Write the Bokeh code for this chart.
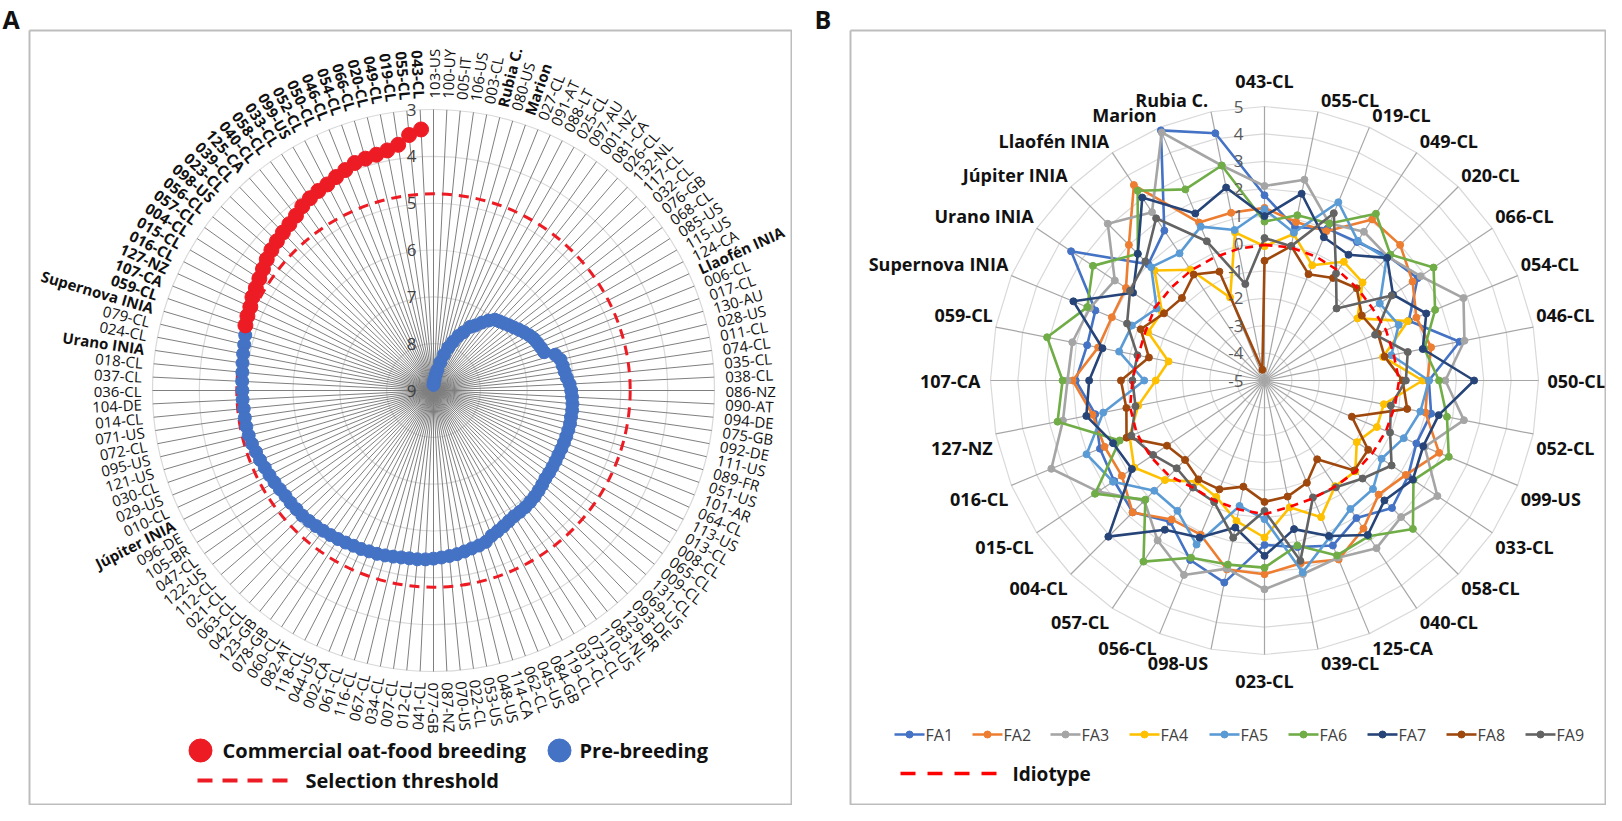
import math
from bokeh.plotting import figure
from bokeh.layouts import row
from bokeh.models import Range1d
from bokeh.core.properties import value
from bokeh.embed import file_html
from bokeh.resources import INLINE

# ---------------- Panel A data ----------------
genotypes = [
    "043-CL", "055-CL", "019-CL", "049-CL", "020-CL", "066-CL", "054-CL", "046-CL", "050-CL", "052-CL",
    "099-US", "033-CL", "058-CL", "040-CL", "125-CA", "039-CL", "023-CL", "098-US", "056-CL", "057-CL",
    "004-CL", "015-CL", "016-CL", "127-NZ", "107-CA", "059-CL", "Supernova INIA", "079-CL", "024-CL", "Urano INIA",
    "018-CL", "037-CL", "036-CL", "104-DE", "014-CL", "071-US", "072-CL", "095-US", "121-US", "030-CL",
    "029-US", "010-CL", "Júpiter INIA", "096-DE", "105-BR", "047-CL", "122-US", "112-CL", "021-CL", "063-CL",
    "042-CL", "123-GB", "078-GB", "060-CL", "082-AT", "118-CL", "044-US", "002-CA", "061-CL", "116-CL",
    "067-CL", "034-CL", "007-CL", "012-CL", "041-CL", "077-GB", "087-NZ", "070-US", "022-CL", "053-US",
    "048-US", "114-CA", "062-CL", "045-US", "084-GB", "119-CL", "031-CL", "073-CL", "110-US", "083-NL",
    "129-BR", "093-DE", "069-US", "131-CL", "009-CL", "065-CL", "008-CL", "013-CL", "113-US", "064-CL",
    "101-AR", "051-US", "089-FR", "111-US", "092-DE", "075-GB", "094-DE", "090-AT", "086-NZ", "038-CL",
    "035-CL", "074-CL", "011-CL", "028-US", "130-AU", "017-CL", "006-CL", "Llaofén INIA", "124-CA", "115-US",
    "085-US", "068-CL", "076-GB", "032-CL", "117-CL", "132-NL", "026-CL", "081-CA", "001-NZ", "097-AU",
    "025-CL", "088-LT", "091-AT", "027-CL", "Marion", "080-US", "Rubia C.", "003-CL", "106-US", "005-IT",
    "100-UY", "103-US",
]
commercial_values = [
    3.42, 3.52, 3.70, 3.78, 3.82, 3.84, 3.86, 3.93, 3.99, 4.05,
    4.08, 4.12, 4.17, 4.25, 4.30, 4.34, 4.38, 4.42, 4.47, 4.53,
    4.58, 4.62, 4.65, 4.70, 4.72, 4.75,
]
prebreeding_values = [
    4.81, 4.84, 4.86, 4.88, 4.90, 4.91, 4.92, 4.92, 4.93, 4.93,
    4.93, 4.94, 4.96, 4.99, 5.01, 5.04, 5.06, 5.08, 5.10, 5.12,
    5.12, 5.13, 5.13, 5.15, 5.17, 5.19, 5.21, 5.23, 5.25, 5.27,
    5.28, 5.30, 5.31, 5.33, 5.35, 5.37, 5.38, 5.38, 5.39, 5.41,
    5.43, 5.45, 5.47, 5.50, 5.53, 5.55, 5.58, 5.66, 5.70, 5.74,
    5.78, 5.81, 5.82, 5.83, 5.85, 5.87, 5.90, 5.93, 5.96, 5.97,
    5.98, 5.99, 6.00, 6.00, 6.00, 6.00, 6.00, 6.00, 6.01, 6.01,
    6.02, 6.04, 6.06, 6.09, 6.14, 6.17, 6.19, 6.21, 6.29, 6.50,
    6.53, 6.56, 6.59, 6.64, 6.70, 6.76, 6.82, 6.87, 6.92, 6.96,
    7.00, 7.10, 7.22, 7.35, 7.43, 7.60, 7.72, 7.88, 8.03, 8.20,
    8.38, 8.55, 8.65, 8.75, 8.82, 8.88,
]
named_cultivars = ["Supernova INIA", "Urano INIA", "Júpiter INIA", "Llaofén INIA", "Marion", "Rubia C."]
selection_threshold = 4.8
radial_ticks_a = [3, 4, 5, 6, 7, 8, 9]
legend_a = ["Commercial oat-food breeding", "Pre-breeding", "Selection threshold"]

# ---------------- Panel B data ----------------
cats_b = [
    "043-CL", "055-CL", "019-CL", "049-CL", "020-CL", "066-CL", "054-CL", "046-CL",
    "050-CL", "052-CL", "099-US", "033-CL", "058-CL", "040-CL", "125-CA", "039-CL",
    "023-CL", "098-US", "056-CL", "057-CL", "004-CL", "015-CL", "016-CL", "127-NZ",
    "107-CA", "059-CL", "Supernova INIA", "Urano INIA", "Júpiter INIA", "Llaofén INIA", "Marion", "Rubia C.",
]
fa1 = [1.76, 0.7, 1.0, 1.08, 1.4, 1.72, 0.7, 2.26, 1.0, 1.2, 1.0, 1.3, 1.58, 1.04, 1.52, 1.2,
       1.0, 2.52, 2.09, 1.2, 1.8, 1.6, 1.5, 1.3, 1.89, 1.6, 1.68, 3.49, 1.0, 1.58, 4.88, 4.2]
fa2 = [1.3, 0.9, 0.9, 2.07, 2.0, 1.5, 1.0, 1.2, 0.95, 0.99, 1.9, 1.2, 0.89, 1.5, 2.07, 1.8,
       2.07, 2.03, 1.09, 1.1, 1.81, 1.26, 1.32, 1.4, 2.0, 1.19, 1.03, 1.08, 2.0, 3.58, 1.24, 1.24]
fa3 = [2.1, 2.47, 1.2, 1.53, 1.38, 1.85, 2.86, 2.44, 1.6, 2.42, 1.33, 2.59, 2.05, 2.36, 2.0, 2.2,
       2.62, 2.0, 2.68, 2.02, 1.2, 2.3, 3.42, 2.5, 2.19, 2.15, 1.9, 1.57, 3.09, 2.39, 4.8, 3.0]
fa4 = [-0.1, 0.45, -0.45, 0.21, 0.06, -0.92, 0.66, -0.59, 0.77, -0.56, -0.56, -0.95, -0.31, -0.36, 0.4, -0.28,
       0.73, 0.23, -0.4, -0.56, 0.14, 0.72, 0.33, -0.3, -1.03, -1.43, -0.4, -0.5, 0.68, -0.14, -1.72, 0.51]
fa5 = [1.25, 0.5, 2.04, 1.13, 1.3, 0.06, 0.3, -0.28, 1.0, 0.8, 0.5, 0.14, 0.6, 0.64, 1.2, 2.14,
       0.06, -0.33, 1.48, 0.72, 0.69, 1.65, 2.03, 1.0, -0.61, 0.41, 0.24, -0.27, 0.85, 0.58, 1.08, 0.6]
fa6 = [0.8, 1.15, 1.2, 2.32, 1.5, 2.42, 1.74, 0.95, 1.37, 1.79, 2.28, 1.54, 2.66, 1.84, 1.91, 1.14,
       1.83, 1.85, 2.0, 2.95, 1.15, 2.44, 0.72, 2.7, 2.37, 3.09, 2.0, 2.53, 1.54, 3.33, 2.55, 3.0]
fa7 = [1.0, 1.95, 0.66, 0.52, 1.33, 0.64, 1.39, 0.89, 2.65, 1.48, 1.27, 1.51, 1.19, 1.78, 1.14, 0.53,
       1.4, 0.47, 1.2, 1.55, 3.06, 0.82, 0.98, 1.63, 1.4, 1.03, 2.55, 0.77, 1.54, 3.03, 1.6, 2.18]
fa8 = [-0.63, 0.0, -0.8, -0.5, -0.24, -0.73, -0.52, -0.53, 0.04, 0.31, -1.55, -0.45, -0.36, -1.54, -0.96, -0.68,
       -0.57, -1.05, -0.7, -0.66, -0.9, -0.72, 0.45, 0.14, 0.24, -0.7, -0.11, -0.59, -0.74, -0.35, -0.7, -4.6]
fa9 = [0.2, 0.0, 1.61, -0.3, -1.28, 0.58, -0.63, 0.33, 0.16, -0.3, -0.04, 0.58, 0.06, -0.31, -0.38, 1.71,
       -0.24, 0.85, -0.2, -0.3, -0.47, -0.11, 0.26, -0.2, -0.18, -0.27, 0.43, 0.9, 1.15, 2.12, 0.5, -1.41]
idiotype = [-0.05, -0.05, -0.1, -0.17, -0.22, -0.26, -0.2, -0.19, -0.09, -0.15, -0.2, -0.25, -0.3, -0.35, -0.35, -0.3,
            -0.12, -0.2, -0.25, -0.3, -0.08, 0.0, 0.05, 0.0, -0.18, -0.3, -0.3, -0.2, -0.2, -0.17, -0.15, -0.1]
series_names = ["FA1", "FA2", "FA3", "FA4", "FA5", "FA6", "FA7", "FA8", "FA9"]
series_values = [fa1, fa2, fa3, fa4, fa5, fa6, fa7, fa8, fa9]
series_colors = ["#4472C4", "#ED7D31", "#A5A5A5", "#FFC000", "#5B9BD5", "#70AD47", "#264478", "#9E480E", "#636363"]
ticks_b = [-5, -4, -3, -2, -1, 0, 1, 2, 3, 4, 5]

FONT = value("Open Sans")
RED = "#ED1C24"
BLUE = "#4472C4"

# ======================= Panel A =======================
CXA, CYA = 441, 398          # page position of the polar centre
RA = 281.0                   # radius of the outer ring (value 3)
VMIN_A, VMAX_A = 3.0, 9.0    # outer ring value, centre value


def rad_a(v):
    return (VMAX_A - v) / (VMAX_A - VMIN_A) * RA


pa = figure(width=792, height=805, x_range=Range1d(8 - CXA, 800 - CXA), y_range=Range1d(CYA - 813, CYA - 8),
            output_backend="svg", toolbar_location=None, min_border=0,
            x_axis_location=None, y_axis_location=None)
pa.grid.visible = False
pa.outline_line_color = None
pa.background_fill_color = "white"
pa.border_fill_color = "white"

n_a = len(genotypes)
step_a = 2 * math.pi / n_a
phis = [math.pi / 2 + (i + 1) * step_a for i in range(n_a)]

# ring grid
ring_vals = [v for v in radial_ticks_a if v < VMAX_A]
pa.circle(x=[0] * len(ring_vals), y=[0] * len(ring_vals), radius=[rad_a(v) for v in ring_vals],
          fill_color=None, line_color="#D9D9D9", line_width=1.2)
# spokes
pa.segment(x0=[0] * n_a, y0=[0] * n_a, x1=[RA * math.cos(p) for p in phis], y1=[RA * math.sin(p) for p in phis],
           line_color="#7F7F7F", line_width=1)
# threshold
pa.circle(x=[0], y=[0], radius=[rad_a(selection_threshold)], fill_color=None, line_color=RED,
          line_width=3, line_dash="10 7")

# points
all_vals = commercial_values + prebreeding_values
n_c = len(commercial_values)
px = [rad_a(v) * math.cos(phis[i]) for i, v in enumerate(all_vals)]
py = [rad_a(v) * math.sin(phis[i]) for i, v in enumerate(all_vals)]
pa.scatter(px[n_c:], py[n_c:], size=13, fill_color=BLUE, line_color=BLUE)
pa.scatter(px[:n_c], py[:n_c], size=15, fill_color=RED, line_color=RED)

# radial tick labels
pa.text(x=[-22] * len(radial_ticks_a), y=[rad_a(v) for v in radial_ticks_a], text=[str(v) for v in radial_ticks_a],
        text_font=FONT, text_font_size="17px", text_color="#404040", text_align="center", text_baseline="middle")

# category labels
R_LAB_A = 292
groups = {}
for i, name in enumerate(genotypes):
    phi = phis[i]
    theta = (i + 1) * step_a
    left = 0 < theta < math.pi - 1e-9
    bold = i < n_c or name in named_cultivars
    key = (left, bold)
    g = groups.setdefault(key, {"x": [], "y": [], "t": [], "a": []})
    g["x"].append(R_LAB_A * math.cos(phi))
    g["y"].append(R_LAB_A * math.sin(phi))
    g["t"].append(name)
    g["a"].append(phi - math.pi if left else phi)
for (left, bold), g in groups.items():
    pa.text(x=g["x"], y=g["y"], text=g["t"], angle=g["a"], text_font=FONT, text_font_size="15px",
            text_font_style="bold" if bold else "normal", text_color="#111111",
            text_align="right" if left else "left", text_baseline="middle")

# legend A (positions in page pixels converted to this panel's coordinates)
def a_xy(X, Y):
    return X - CXA, CYA - Y

lx, ly = a_xy(208, 758)
pa.scatter([lx], [ly], size=23, fill_color=RED, line_color=RED)
tx, ty = a_xy(230, 758)
pa.text([tx], [ty], text=[legend_a[0]], text_font=FONT, text_font_size="20px", text_font_style="bold",
        text_baseline="middle", text_color="#111111")
lx, ly = a_xy(567, 758)
pa.scatter([lx], [ly], size=23, fill_color=BLUE, line_color=BLUE)
tx, ty = a_xy(587, 758)
pa.text([tx], [ty], text=[legend_a[1]], text_font=FONT, text_font_size="20px", text_font_style="bold",
        text_baseline="middle", text_color="#111111")
x0, y0 = a_xy(205, 788)
x1, _ = a_xy(302, 788)
pa.line([x0, x1], [y0, y0], line_color=RED, line_width=4, line_dash="15 10")
tx, ty = a_xy(313, 788)
pa.text([tx], [ty], text=[legend_a[2]], text_font=FONT, text_font_size="20px", text_font_style="bold",
        text_baseline="middle", text_color="#111111")

# box and panel letter
bx0, by0 = a_xy(37, 38)
bx1, by1 = a_xy(799, 812)
pa.line([bx0, bx1, bx1, bx0, bx0], [by0, by0, by1, by1, by0], line_color="#BDBDBD", line_width=2)
tx, ty = a_xy(10, 9)
pa.text([tx], [ty], text=["A"], text_font=FONT, text_font_size="25px", text_font_style="bold",
        text_baseline="top", text_align="left", text_color="#111111")

# ======================= Panel B =======================
CXB, CYB = 1272, 388
RB = 274.0
VMIN_B, VMAX_B = -5.0, 5.0


def rad_b(v):
    return (v - VMIN_B) / (VMAX_B - VMIN_B) * RB


pb = figure(width=814, height=805, x_range=Range1d(800 - CXB, 1614 - CXB), y_range=Range1d(CYB - 813, CYB - 8),
            output_backend="svg", toolbar_location=None, min_border=0,
            x_axis_location=None, y_axis_location=None)
pb.grid.visible = False
pb.outline_line_color = None
pb.background_fill_color = "white"
pb.border_fill_color = "white"

n_b = len(cats_b)
thetas = [k * 2 * math.pi / n_b for k in range(n_b)]

# polygon grid
gx, gy = [], []
for v in ticks_b[1:]:
    r = rad_b(v)
    gx.append([r * math.sin(t) for t in thetas] + [0.0])
    gy.append([r * math.cos(t) for t in thetas] + [r])
pb.multi_line(gx, gy, line_color="#D9D9D9", line_width=1.2)
pb.segment(x0=[0] * n_b, y0=[0] * n_b, x1=[RB * math.sin(t) for t in thetas], y1=[RB * math.cos(t) for t in thetas],
           line_color="#A6A6A6", line_width=1.2)


def polar_b(vals):
    xs = [rad_b(v) * math.sin(thetas[k]) for k, v in enumerate(vals)]
    ys = [rad_b(v) * math.cos(thetas[k]) for k, v in enumerate(vals)]
    return xs, ys


for name, vals, col in zip(series_names, series_values, series_colors):
    xs, ys = polar_b(vals)
    pb.line(xs + xs[:1], ys + ys[:1], line_color=col, line_width=2.6)
    pb.scatter(xs, ys, size=7, fill_color=col, line_color=col)

xs, ys = polar_b(idiotype)
pb.line(xs + xs[:1], ys + ys[:1], line_color="#FF0000", line_width=2.6, line_dash="8 6")

# tick labels
pb.text(x=[-21] * len(ticks_b), y=[rad_b(v) for v in ticks_b], text=[str(v) for v in ticks_b],
        text_font=FONT, text_font_size="17px", text_color="#595959", text_align="right", text_baseline="middle")

# category labels
for k, name in enumerate(cats_b):
    s, c = math.sin(thetas[k]), math.cos(thetas[k])
    x, y = RB * s, RB * c
    if abs(s) < 1e-6:
        align, dx = "center", 0
    elif s > 0:
        align, dx = "left", 3
    else:
        align, dx = "right", -3
    if abs(c) < 1e-6:
        base, dy = "middle", 0
    elif c > 0:
        base, dy = "bottom", 0
    else:
        base, dy = "top", -2
    if k == 0:
        dy = 14
    if k == n_b // 2:
        dy = -14
    if k == n_b // 4:
        dx = 9
    if k == 3 * n_b // 4:
        dx = -10
    pb.text([x + dx], [y + dy], text=[name], text_font=FONT, text_font_size="18px", text_font_style="bold",
            text_align=align, text_baseline=base, text_color="#111111")


def b_xy(X, Y):
    return X - CXB, CYB - Y

# legend B
leg_x = [902, 980, 1058, 1137, 1217, 1296, 1375, 1454, 1533]
for name, col, X in zip(series_names, series_colors, leg_x):
    x0, y0 = b_xy(X, 742)
    pb.line([x0, x0 + 30], [y0, y0], line_color=col, line_width=2.6)
    pb.scatter([x0 + 15], [y0], size=7, fill_color=col, line_color=col)
    pb.text([x0 + 31], [y0], text=[name], text_font=FONT, text_font_size="16px", text_color="#404040",
            text_baseline="middle", text_align="left")
x0, y0 = b_xy(908, 781)
pb.line([x0, x0 + 96], [y0, y0], line_color="#FF0000", line_width=3.5, line_dash="15 12")
tx, ty = b_xy(1020, 781)
pb.text([tx], [ty], text=["Idiotype"], text_font=FONT, text_font_size="19px", text_font_style="bold",
        text_baseline="middle", text_color="#111111")

bx0, by0 = b_xy(858, 38)
bx1, by1 = b_xy(1613, 812)
pb.line([bx0, bx1, bx1, bx0, bx0], [by0, by0, by1, by1, by0], line_color="#BDBDBD", line_width=2)
tx, ty = b_xy(822, 9)
pb.text([tx], [ty], text=["B"], text_font=FONT, text_font_size="25px", text_font_style="bold",
        text_baseline="top", text_align="left", text_color="#111111")

layout = row(pa, pb)
open("out.html", "w", encoding="utf-8").write(file_html(layout, INLINE))
